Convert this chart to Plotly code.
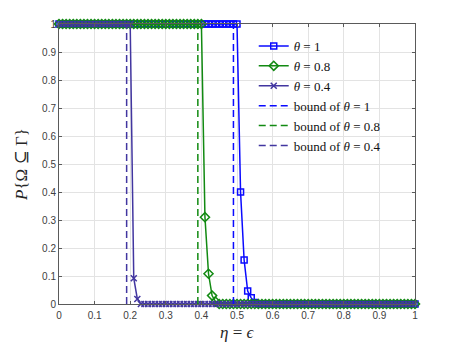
import plotly.graph_objects as go

eta = [0.00, 0.01, 0.02, 0.03, 0.04, 0.05, 0.06, 0.07, 0.08, 0.09,
       0.10, 0.11, 0.12, 0.13, 0.14, 0.15, 0.16, 0.17, 0.18, 0.19,
       0.20, 0.21, 0.22, 0.23, 0.24, 0.25, 0.26, 0.27, 0.28, 0.29,
       0.30, 0.31, 0.32, 0.33, 0.34, 0.35, 0.36, 0.37, 0.38, 0.39,
       0.40, 0.41, 0.42, 0.43, 0.44, 0.45, 0.46, 0.47, 0.48, 0.49,
       0.50, 0.51, 0.52, 0.53, 0.54, 0.55, 0.56, 0.57, 0.58, 0.59,
       0.60, 0.61, 0.62, 0.63, 0.64, 0.65, 0.66, 0.67, 0.68, 0.69,
       0.70, 0.71, 0.72, 0.73, 0.74, 0.75, 0.76, 0.77, 0.78, 0.79,
       0.80, 0.81, 0.82, 0.83, 0.84, 0.85, 0.86, 0.87, 0.88, 0.89,
       0.90, 0.91, 0.92, 0.93, 0.94, 0.95, 0.96, 0.97, 0.98, 0.99,
       1.00]

p_theta_1 = [1, 1, 1, 1, 1, 1, 1, 1, 1, 1,
             1, 1, 1, 1, 1, 1, 1, 1, 1, 1,
             1, 1, 1, 1, 1, 1, 1, 1, 1, 1,
             1, 1, 1, 1, 1, 1, 1, 1, 1, 1,
             1, 1, 1, 1, 1, 1, 1, 1, 1, 1,
             1, 0.40, 0.157, 0.046, 0.022, 0.005, 0, 0, 0, 0,
             0, 0, 0, 0, 0, 0, 0, 0, 0, 0,
             0, 0, 0, 0, 0, 0, 0, 0, 0, 0,
             0, 0, 0, 0, 0, 0, 0, 0, 0, 0,
             0, 0, 0, 0, 0, 0, 0, 0, 0, 0,
             0]

p_theta_08 = [1, 1, 1, 1, 1, 1, 1, 1, 1, 1,
              1, 1, 1, 1, 1, 1, 1, 1, 1, 1,
              1, 1, 1, 1, 1, 1, 1, 1, 1, 1,
              1, 1, 1, 1, 1, 1, 1, 1, 1, 1,
              1, 0.31, 0.108, 0.03, 0.008, 0, 0, 0, 0, 0,
              0, 0, 0, 0, 0, 0, 0, 0, 0, 0,
              0, 0, 0, 0, 0, 0, 0, 0, 0, 0,
              0, 0, 0, 0, 0, 0, 0, 0, 0, 0,
              0, 0, 0, 0, 0, 0, 0, 0, 0, 0,
              0, 0, 0, 0, 0, 0, 0, 0, 0, 0,
              0]

p_theta_04 = [1, 1, 1, 1, 1, 1, 1, 1, 1, 1,
              1, 1, 1, 1, 1, 1, 1, 1, 1, 1,
              1, 0.092, 0.018, 0, 0, 0, 0, 0, 0, 0,
              0, 0, 0, 0, 0, 0, 0, 0, 0, 0,
              0, 0, 0, 0, 0, 0, 0, 0, 0, 0,
              0, 0, 0, 0, 0, 0, 0, 0, 0, 0,
              0, 0, 0, 0, 0, 0, 0, 0, 0, 0,
              0, 0, 0, 0, 0, 0, 0, 0, 0, 0,
              0, 0, 0, 0, 0, 0, 0, 0, 0, 0,
              0, 0, 0, 0, 0, 0, 0, 0, 0, 0,
              0]

bound_theta = ["1", "0.8", "0.4"]
bound_values = [0.49, 0.39, 0.19]
bound_y = [0, 1]

tick_vals = [0, 0.1, 0.2, 0.3, 0.4, 0.5, 0.6, 0.7, 0.8, 0.9, 1]
tick_text = ["0", "0.1", "0.2", "0.3", "0.4", "0.5", "0.6", "0.7", "0.8", "0.9", "1"]

x_title = "<i>η</i> = <i>ϵ</i>"
y_title = "<i>P</i>{Ω ⊆ Γ}"

BLUE = "#0a0aff"
GREEN = "#128a12"
PURPLE = "#4236a0"
colors = [BLUE, GREEN, PURPLE]

fig = go.Figure()

series = [
    ("<i>θ</i> = 1", p_theta_1, "square-open", 6),
    ("<i>θ</i> = 0.8", p_theta_08, "diamond-open", 7),
    ("<i>θ</i> = 0.4", p_theta_04, "x-thin-open", 6),
]
for (name, ys, sym, sz), c in zip(series, colors):
    fig.add_trace(go.Scatter(
        x=eta, y=ys, name=name, mode="lines+markers",
        line=dict(color=c, width=1.5),
        marker=dict(symbol=sym, size=sz, color=c, line=dict(color=c, width=1.5)),
        cliponaxis=False,
    ))

for th, b, c in zip(bound_theta, bound_values, colors):
    fig.add_trace(go.Scatter(
        x=[b, b], y=bound_y, name="bound of <i>θ</i> = " + th, mode="lines",
        line=dict(color=c, width=1.5, dash="7px,4px"),
        cliponaxis=False,
    ))

axis_common = dict(
    range=[0, 1], tickvals=tick_vals, ticktext=tick_text,
    showgrid=True, gridcolor="#e3e3e3", gridwidth=1,
    showline=True, linecolor="#5a5a5a", linewidth=1, mirror="ticks",
    ticks="inside", ticklen=3, tickcolor="#5a5a5a",
    tickfont=dict(family="Liberation Sans, Arial", size=10, color="#404040"),
    zeroline=False,
)

fig.update_layout(
    width=450, height=335,
    margin=dict(l=51, r=43, t=16, b=39),
    paper_bgcolor="white", plot_bgcolor="white",
    xaxis=dict(**axis_common, ticklabelstandoff=2, automargin=False),
    yaxis=dict(**axis_common, automargin=False,
               title=dict(text=y_title, standoff=10,
                          font=dict(family="Liberation Serif, DejaVu Serif", size=17, color="#262626"))),
    legend=dict(x=0.547, y=0.975, xanchor="left", yanchor="top",
                bgcolor="rgba(0,0,0,0)", borderwidth=0,
                font=dict(family="Liberation Serif, DejaVu Serif", size=13, color="#111111"),
                tracegroupgap=0, itemwidth=30),
    showlegend=True,
    annotations=[dict(text=x_title, xref="paper", yref="paper", x=0.5, y=0,
                      xanchor="center", yanchor="middle", yshift=-28, showarrow=False,
                      font=dict(family="Liberation Serif, DejaVu Serif", size=17, color="#262626"))],
)

fig.write_html("out.html")
